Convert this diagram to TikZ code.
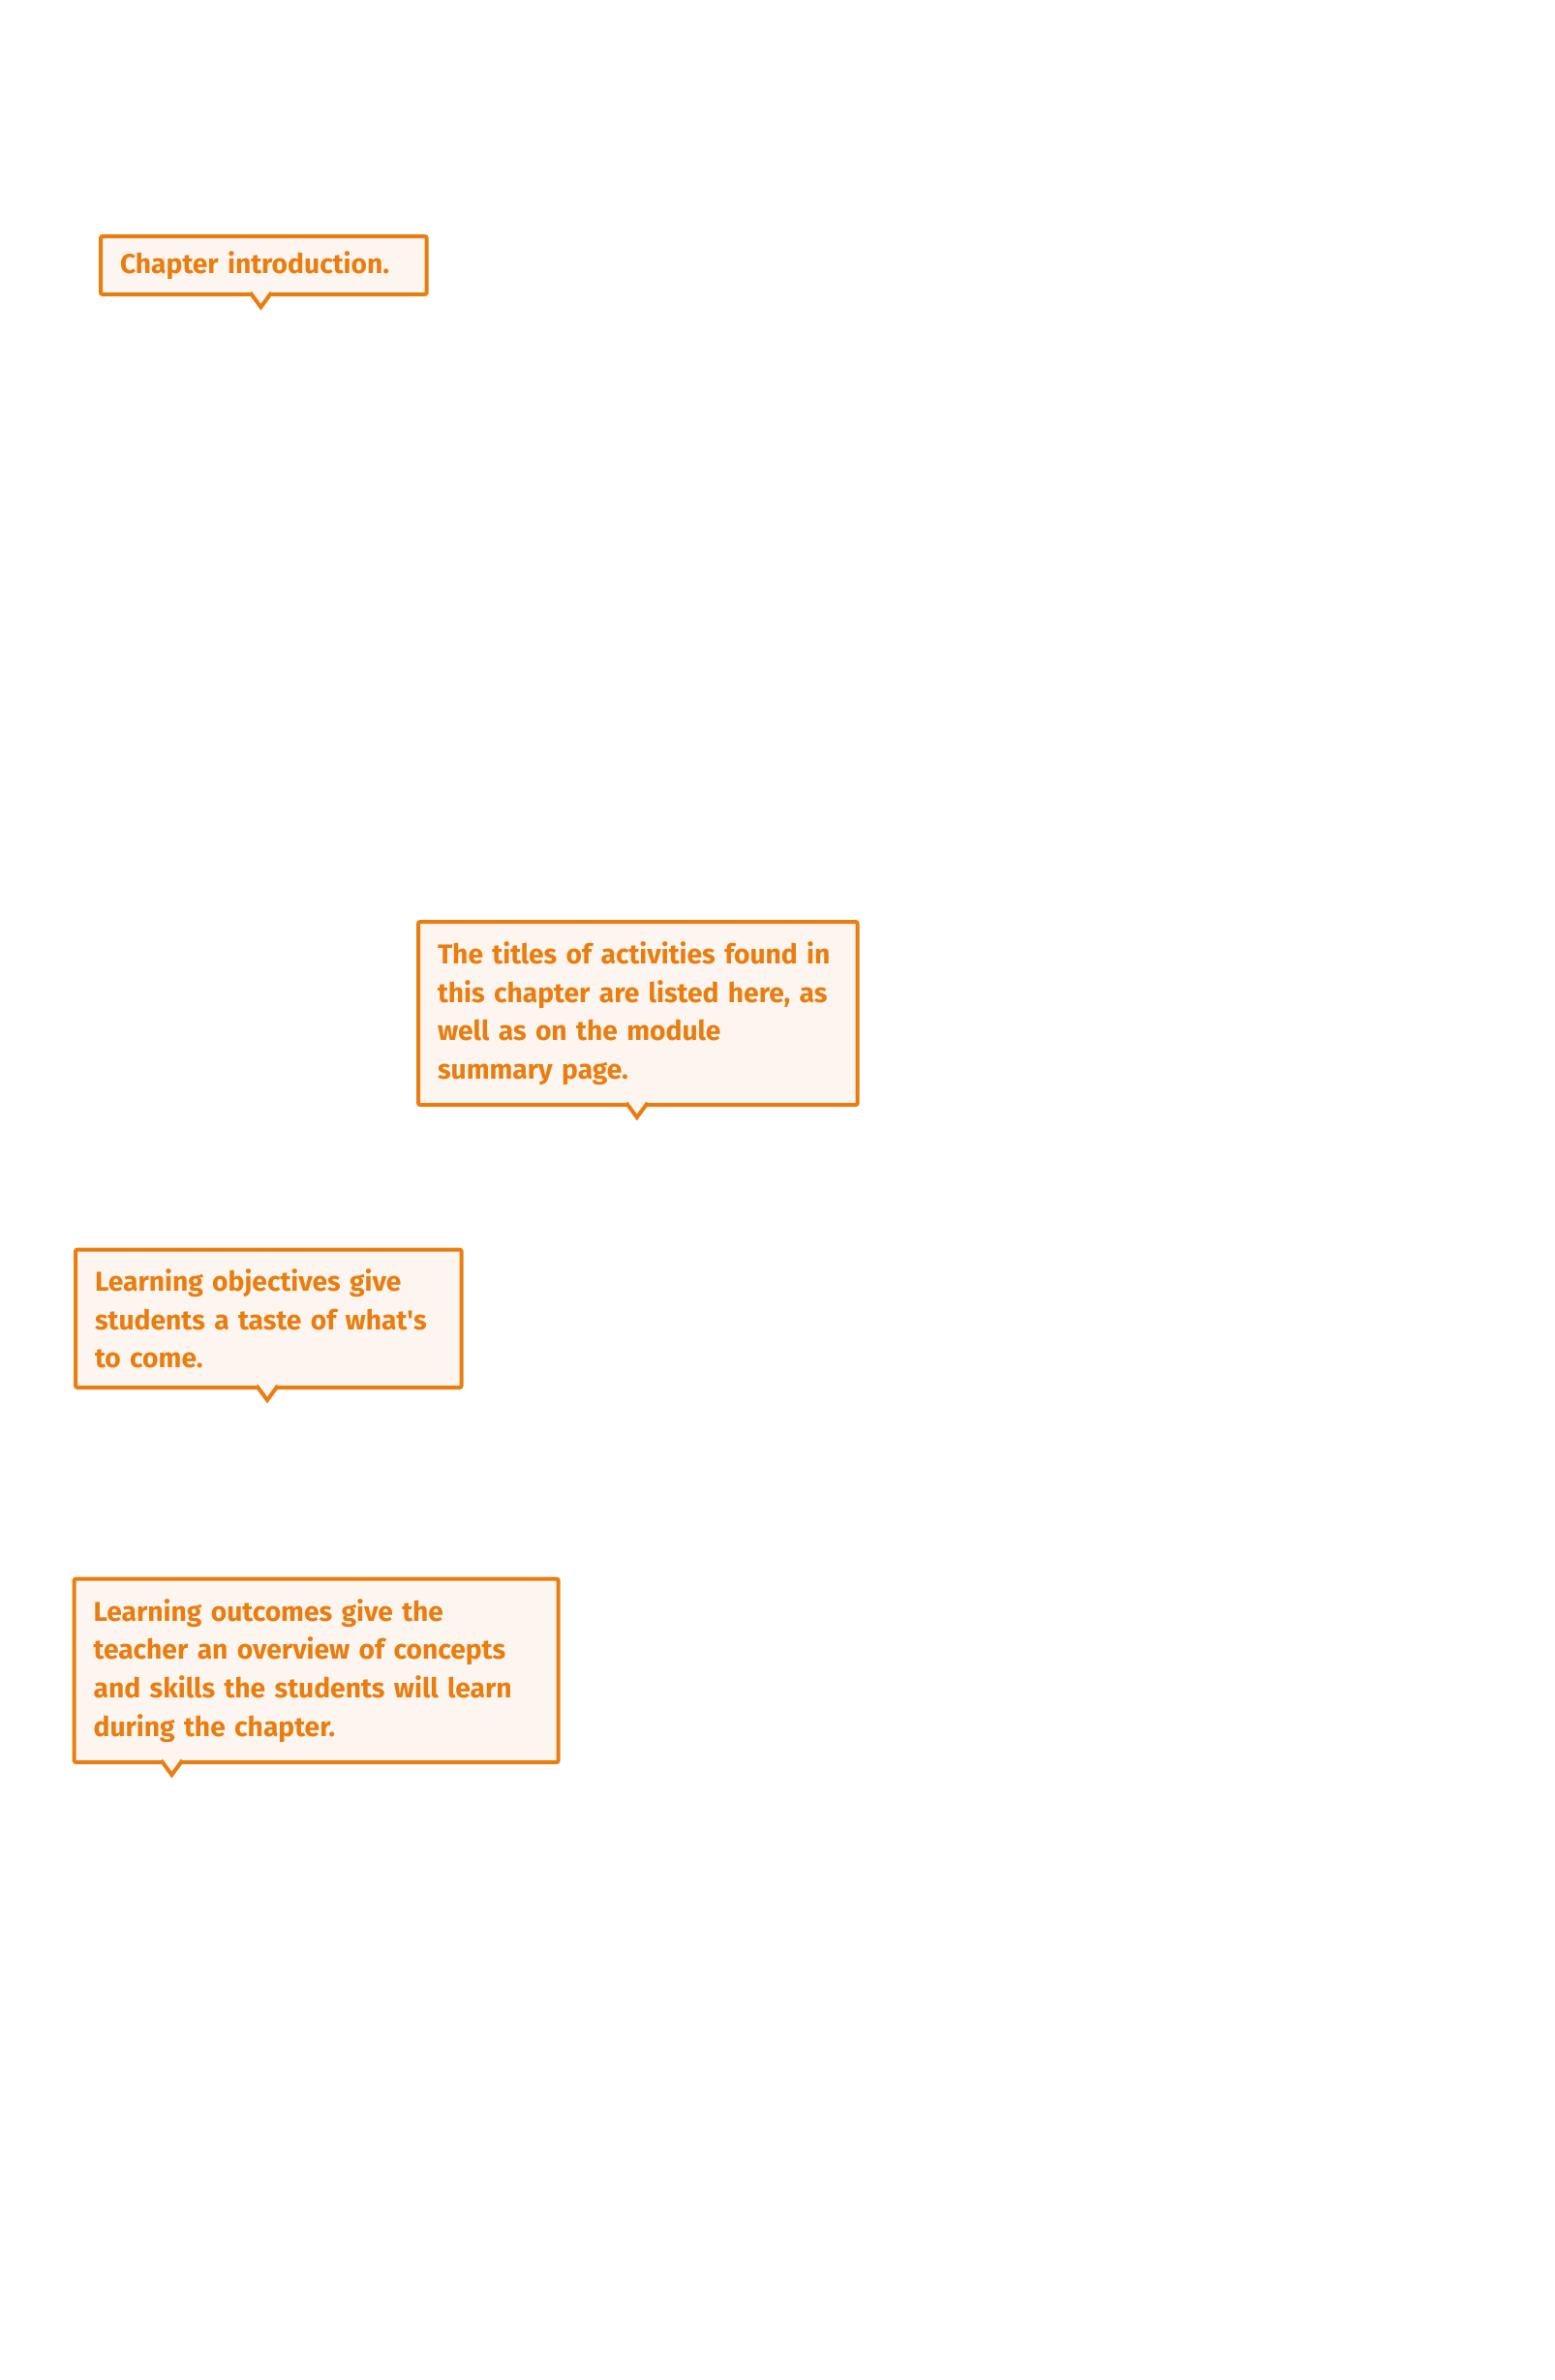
\documentclass[tikz,border=0pt]{standalone}
\usepackage{fontspec}
\setmainfont{Fira Sans}
\usepackage{tikz}
\usetikzlibrary{calc}
\usetikzlibrary{positioning}

\definecolor{notecol}{RGB}{233,125,15}
\definecolor{notefill}{RGB}{253,245,239}

\tikzset{note/.style={draw=notecol, fill=notefill, line width=2pt, rounded corners=1pt,
    text=notecol, font=\bfseries\fontsize{14.1}{19.8}\selectfont, align=left,
    anchor=north west, inner xsep=10pt, inner ysep=0pt}}

% tail of a note, tip at #1, pointing down
\newcommand{\notetail}[1]{%
  \fill[notefill] ($(#1)+(-6.6,-9)$) -- (#1) -- ($(#1)+(6.6,-9)$) -- cycle;
  \draw[notecol, line width=2pt, miter limit=10] ($(#1)+(-5.5,-7.5)$) -- (#1) -- ($(#1)+(5.5,-7.5)$);}

\begin{document}
\begin{tikzpicture}[x=1pt,y=-1pt]
\useasboundingbox (0,0) rectangle (803,1229);

\node[note, minimum width=168.3pt, minimum height=30pt, text width=148.3pt] (intro) at (51,121) {Chapter introduction.};
\node[note, minimum width=226.8pt, minimum height=94.5pt, text width=206.8pt] (titles) at (215,475) {The titles of activities found in\\this chapter are listed here, as\\well as on the module\\summary page.};
\node[note, minimum width=199.3pt, minimum height=71.2pt, text width=179.3pt] (objectives) at (38,644.3) {Learning objectives give\\students a taste of what\textquotesingle s\\to come.};
\node[note, minimum width=250pt, minimum height=94.7pt, text width=230pt] (outcomes) at (37.3,814.3) {Learning outcomes give the\\teacher an overview of concepts\\and skills the students will learn\\during the chapter.};

\coordinate (intro tip) at (134.7,158.6);
\coordinate (titles tip) at (328.9,577);
\coordinate (objectives tip) at (138,723);
\coordinate (outcomes tip) at (88.7,916.5);

\notetail{intro tip}
\notetail{titles tip}
\notetail{objectives tip}
\notetail{outcomes tip}
\end{tikzpicture}
\end{document}
